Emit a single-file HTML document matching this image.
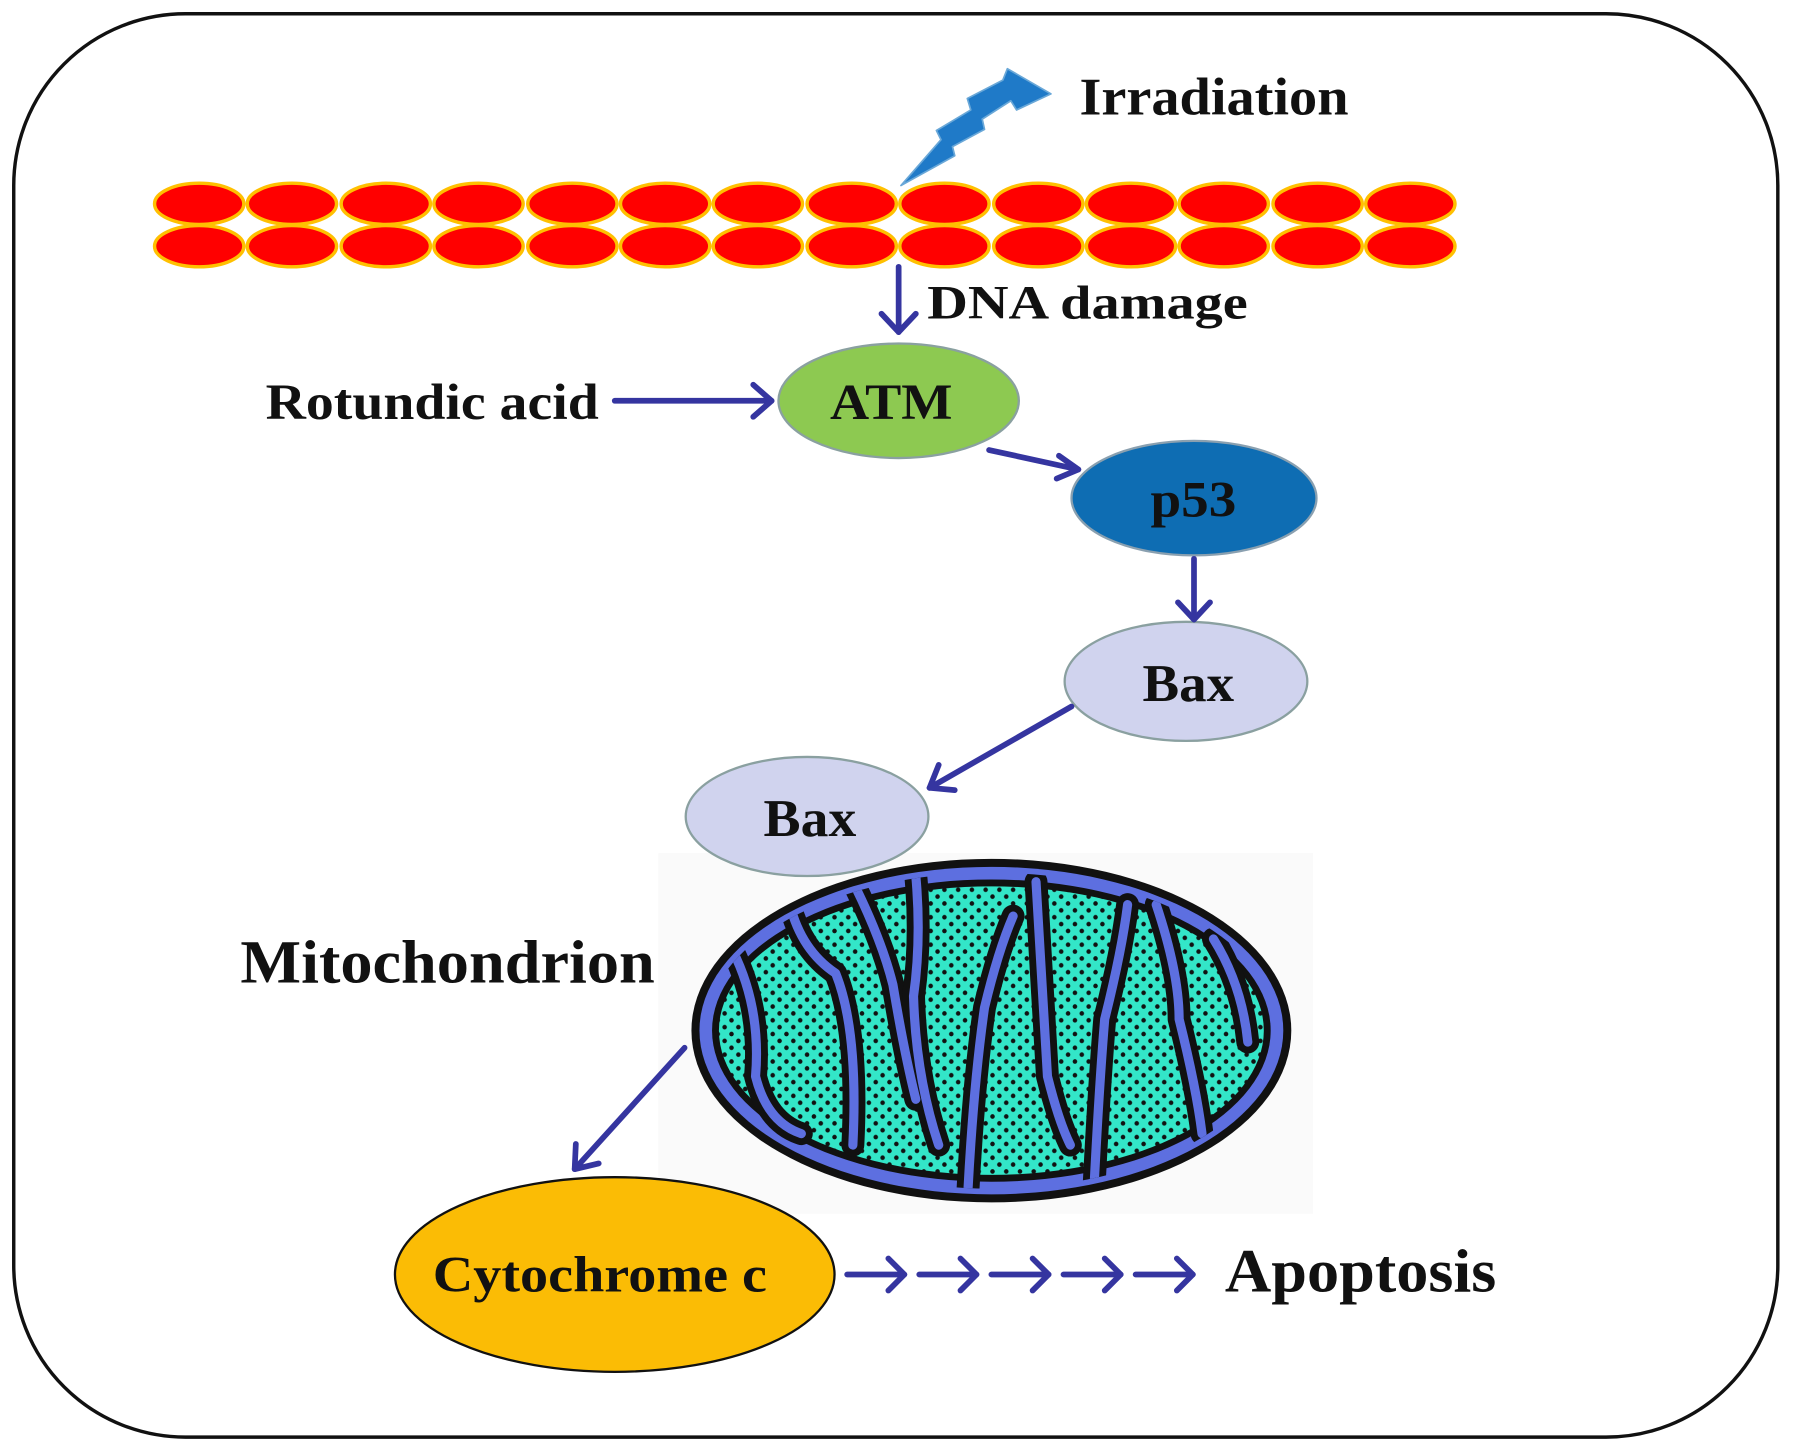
<!DOCTYPE html>
<html><head><meta charset="utf-8"><style>html,body{margin:0;padding:0;background:#fff}svg{display:block}</style></head>
<body>
<svg width="1795" height="1452" viewBox="0 0 1568 1268" preserveAspectRatio="none" xmlns="http://www.w3.org/2000/svg" font-family="Liberation Serif, serif" font-weight="bold">
<defs>
<pattern id="dots" width="12" height="12" patternUnits="userSpaceOnUse">
<rect width="12" height="12" fill="#33e6c8"/>
<circle cx="3" cy="3" r="2" fill="#111"/><circle cx="9" cy="9" r="2" fill="#111"/>
</pattern>
<clipPath id="mc"><ellipse cx="866" cy="900" rx="250" ry="138"/></clipPath>
</defs>
<rect x="12" y="12" width="1541" height="1243" rx="150" ry="150" fill="#fff" stroke="#111" stroke-width="3"/>
<!-- DNA -->
<g fill="#ff0000" stroke="#ffc000" stroke-width="3">
<g id="row">
<ellipse cx="174" cy="178" rx="39" ry="18"/><ellipse cx="255" cy="178" rx="39" ry="18"/><ellipse cx="337" cy="178" rx="39" ry="18"/><ellipse cx="418" cy="178" rx="39" ry="18"/><ellipse cx="500" cy="178" rx="39" ry="18"/><ellipse cx="581" cy="178" rx="39" ry="18"/><ellipse cx="662" cy="178" rx="39" ry="18"/><ellipse cx="744" cy="178" rx="39" ry="18"/><ellipse cx="825" cy="178" rx="39" ry="18"/><ellipse cx="907" cy="178" rx="39" ry="18"/><ellipse cx="988" cy="178" rx="39" ry="18"/><ellipse cx="1069" cy="178" rx="39" ry="18"/><ellipse cx="1151" cy="178" rx="39" ry="18"/><ellipse cx="1232" cy="178" rx="39" ry="18"/>
</g>
<use href="#row" y="37"/>
</g>
<!-- lightning -->
<polygon points="787,162 822,122 818,114 848,96 845,86 876,70 880,60 918,82 888,96 883,88 858,104 860,113 832,128 834,136" fill="#1f7ac8" stroke="#6aa8d8" stroke-width="1.5" stroke-linejoin="round"/>
<text x="943" y="100" font-size="46" fill="#111" textLength="235" lengthAdjust="spacingAndGlyphs">Irradiation</text>
<text x="810" y="278" font-size="42" fill="#111" textLength="280" lengthAdjust="spacingAndGlyphs">DNA damage</text>
<text x="232" y="366" font-size="44" fill="#111" textLength="291" lengthAdjust="spacingAndGlyphs">Rotundic acid</text>
<ellipse cx="785" cy="350" rx="105" ry="50" fill="#8dc951" stroke="#8aa0a0" stroke-width="2"/>
<text x="725" y="366" font-size="44" fill="#111" textLength="107" lengthAdjust="spacingAndGlyphs">ATM</text>
<ellipse cx="1043" cy="435" rx="107" ry="50" fill="#0e6db3" stroke="#8aa0b0" stroke-width="2"/>
<text x="1005" y="451" font-size="44" fill="#111" textLength="75" lengthAdjust="spacingAndGlyphs">p53</text>
<ellipse cx="1036" cy="595" rx="106" ry="52" fill="#d0d3ee" stroke="#8aa0a0" stroke-width="2"/>
<text x="998" y="612" font-size="46" fill="#111" textLength="80" lengthAdjust="spacingAndGlyphs">Bax</text>
<!-- mitochondrion -->
<rect x="575" y="745" width="572" height="315" fill="#fafafa"/>
<ellipse cx="705" cy="713" rx="106" ry="52" fill="#d0d3ee" stroke="#8aa0a0" stroke-width="2"/>
<text x="667" y="730" font-size="46" fill="#111" textLength="81" lengthAdjust="spacingAndGlyphs">Bax</text>
<ellipse cx="866" cy="900" rx="262" ry="150" fill="#111"/>
<ellipse cx="866" cy="900" rx="255" ry="143" fill="#5d6fe0"/>
<ellipse cx="866" cy="900" rx="244" ry="132" fill="#111"/>
<ellipse cx="866" cy="900" rx="238" ry="126" fill="url(#dots)"/>
<g clip-path="url(#mc)" fill="none" stroke-linecap="round" stroke-linejoin="round">
<g stroke="#111" stroke-width="20">
<path d="M640,830 Q665,880 660,940 Q670,980 700,990"/>
<path d="M690,790 Q700,830 730,850 Q750,900 745,1000"/>
<path d="M745,770 Q770,820 780,860 Q790,920 800,960"/>
<path d="M800,765 Q805,820 798,870 Q800,940 820,1000"/>
<path d="M845,1050 Q850,950 860,880 Q872,830 885,800"/>
<path d="M905,770 Q910,860 915,940 Q925,980 935,1000"/>
<path d="M955,1050 Q960,950 965,890 Q980,830 985,790"/>
<path d="M1010,790 Q1030,850 1030,890 Q1045,950 1050,990"/>
<path d="M1060,820 Q1085,860 1090,910"/>
</g>
<g stroke="#5d6fe0" stroke-width="8">
<path d="M640,830 Q665,880 660,940 Q670,980 700,990"/>
<path d="M690,790 Q700,830 730,850 Q750,900 745,1000"/>
<path d="M745,770 Q770,820 780,860 Q790,920 800,960"/>
<path d="M800,765 Q805,820 798,870 Q800,940 820,1000"/>
<path d="M845,1050 Q850,950 860,880 Q872,830 885,800"/>
<path d="M905,770 Q910,860 915,940 Q925,980 935,1000"/>
<path d="M955,1050 Q960,950 965,890 Q980,830 985,790"/>
<path d="M1010,790 Q1030,850 1030,890 Q1045,950 1050,990"/>
<path d="M1060,820 Q1085,860 1090,910"/>
</g>
</g>
<g stroke="#3535a0" stroke-width="5" fill="none" stroke-linecap="round" stroke-linejoin="round">
<line x1="785" y1="233" x2="785" y2="290"/><polyline points="770,274 785,290 800,274"/>
<line x1="537" y1="350" x2="674" y2="350"/><polyline points="658,336 674,350 658,364"/>
<line x1="864" y1="393" x2="942" y2="410"/><polyline points="925,398 942,410 923,418"/>
<line x1="1043" y1="488" x2="1043" y2="541"/><polyline points="1029,526 1043,541 1057,526"/>
<line x1="936" y1="617" x2="812" y2="688"/><polyline points="820,668 812,688 834,690"/>
<line x1="598" y1="915" x2="502" y2="1021"/><polyline points="503,999 502,1021 523,1016"/>
<line x1="740" y1="1113" x2="790" y2="1113"/><polyline points="776,1099 790,1113 776,1127"/>
<line x1="803" y1="1113" x2="853" y2="1113"/><polyline points="839,1099 853,1113 839,1127"/>
<line x1="866" y1="1113" x2="916" y2="1113"/><polyline points="902,1099 916,1113 902,1127"/>
<line x1="929" y1="1113" x2="979" y2="1113"/><polyline points="965,1099 979,1113 965,1127"/>
<line x1="992" y1="1113" x2="1042" y2="1113"/><polyline points="1028,1099 1042,1113 1028,1127"/>
</g>
<text x="210" y="858" font-size="54" fill="#111" textLength="362" lengthAdjust="spacingAndGlyphs">Mitochondrion</text>
<ellipse cx="537" cy="1113" rx="192" ry="85" fill="#fbbc05" stroke="#111" stroke-width="2"/>
<text x="378" y="1128" font-size="44" fill="#111" textLength="292" lengthAdjust="spacingAndGlyphs">Cytochrome c</text>
<text x="1070" y="1128" font-size="54" fill="#111" textLength="237" lengthAdjust="spacingAndGlyphs">Apoptosis</text>
</svg>
</body></html>
